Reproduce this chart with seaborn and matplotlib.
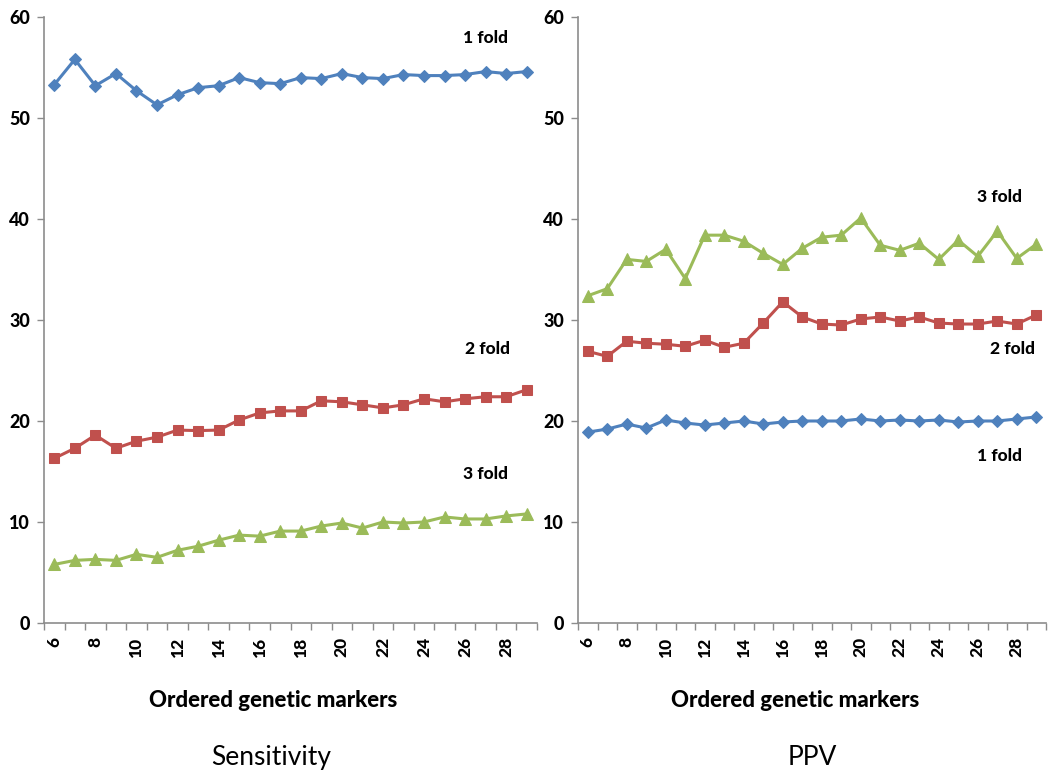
import matplotlib
matplotlib.use("Agg")
import matplotlib.pyplot as plt
import seaborn as sns
import numpy as np
import pandas as pd

# ordered genetic markers on the x axis
markers = list(range(6, 30))

sens_1fold = [53.3, 55.8, 53.2, 54.4, 52.7, 51.3, 52.3, 53.0, 53.2, 54.0, 53.5, 53.4,
              54.0, 53.9, 54.4, 54.0, 53.9, 54.3, 54.2, 54.2, 54.3, 54.6, 54.4, 54.6]
sens_2fold = [16.3, 17.3, 18.6, 17.3, 18.0, 18.4, 19.1, 19.05, 19.1, 20.1, 20.8, 21.0,
              21.0, 22.0, 21.9, 21.6, 21.3, 21.6, 22.2, 21.9, 22.2, 22.4, 22.4, 23.1]
sens_3fold = [5.8, 6.2, 6.3, 6.2, 6.8, 6.5, 7.2, 7.6, 8.2, 8.7, 8.6, 9.1,
              9.1, 9.6, 9.9, 9.4, 10.0, 9.9, 10.0, 10.5, 10.3, 10.3, 10.6, 10.8]

ppv_1fold = [18.9, 19.2, 19.7, 19.3, 20.1, 19.8, 19.6, 19.8, 20.0, 19.7, 19.9, 20.0,
             20.0, 20.0, 20.2, 20.0, 20.1, 20.0, 20.1, 19.9, 20.0, 20.0, 20.2, 20.4]
ppv_2fold = [26.9, 26.4, 27.9, 27.7, 27.6, 27.4, 28.0, 27.3, 27.7, 29.7, 31.8, 30.3,
             29.6, 29.5, 30.1, 30.3, 29.9, 30.3, 29.7, 29.6, 29.6, 29.9, 29.6, 30.5]
ppv_3fold = [32.4, 33.1, 36.0, 35.8, 37.0, 34.1, 38.4, 38.4, 37.8, 36.6, 35.5, 37.1,
             38.2, 38.4, 40.1, 37.4, 36.9, 37.6, 36.0, 37.9, 36.3, 38.8, 36.1, 37.5]

fold_names = ["1 fold", "2 fold", "3 fold"]
colors = ["#4F81BD", "#C0504D", "#9BBB59"]
marker_styles = ["D", "s", "^"]
marker_sizes = [6.5, 7.5, 8]

sns.set_style("white")
plt.rcParams["font.family"] = ["Lato", "DejaVu Sans"]
plt.rcParams["text.color"] = "black"
plt.rcParams["axes.labelcolor"] = "black"
plt.rcParams["xtick.labelcolor"] = "black"
plt.rcParams["ytick.labelcolor"] = "black"

fig = plt.figure(figsize=(10.5, 7.8), dpi=100)
ax_l = fig.add_axes([44 / 1050, 1 - 623 / 780, 493 / 1050, 606 / 780])
ax_r = fig.add_axes([578 / 1050, 1 - 623 / 780, 468 / 1050, 606 / 780])

panels = [
    (ax_l, [sens_1fold, sens_2fold, sens_3fold], "Sensitivity",
     {"1 fold": (27.0, 57.9), "2 fold": (27.1, 27.1), "3 fold": (27.0, 14.75)}),
    (ax_r, [ppv_1fold, ppv_2fold, ppv_3fold], "PPV",
     {"1 fold": (27.1, 16.5), "2 fold": (27.8, 27.1), "3 fold": (27.1, 42.2)}),
]

for ax, series, title, label_pos in panels:
    for name, vals, col, mk, ms in zip(fold_names, series, colors, marker_styles, marker_sizes):
        df = pd.DataFrame({"marker": markers, "value": vals})
        sns.lineplot(data=df, x="marker", y="value", ax=ax, color=col, marker=mk,
                     markersize=ms, markeredgecolor=col, linewidth=2.2)
        tx, ty = label_pos[name]
        ax.text(tx, ty, name, ha="center", va="center", fontsize=12.5,
                fontweight="black", color="black")

    ax.set_xlim(5.5, 29.5)
    ax.set_ylim(0, 60)
    ax.set_yticks(range(0, 61, 10))
    ax.set_xticks(range(6, 29, 2))
    ax.set_xticks(np.arange(5.5, 30, 1), minor=True)
    ax.tick_params(axis="x", which="major", length=0, pad=10, labelrotation=90,
                   labelsize=12.5)
    ax.tick_params(axis="x", which="minor", length=5, width=1, color="#8c8c8c",
                   direction="out", bottom=True)
    ax.tick_params(axis="y", which="major", length=5, width=1, color="#8c8c8c",
                   direction="out", left=True, pad=5, labelsize=13)
    for lab in ax.get_xticklabels() + ax.get_yticklabels():
        lab.set_fontweight("black")
    for side in ["top", "right"]:
        ax.spines[side].set_visible(False)
    for side in ["left", "bottom"]:
        ax.spines[side].set_color("#8c8c8c")
        ax.spines[side].set_linewidth(1.2)

    ax.set_xlabel("Ordered genetic markers", fontsize=16, fontweight="black")
    ax.set_ylabel("")
    ax.xaxis.set_label_coords(0.464, -0.11)
    ax.text(0.5 if title == "PPV" else 0.46, -0.222, title, transform=ax.transAxes,
            ha="center", va="center", fontsize=19)

fig.savefig("out.png", dpi=100)
